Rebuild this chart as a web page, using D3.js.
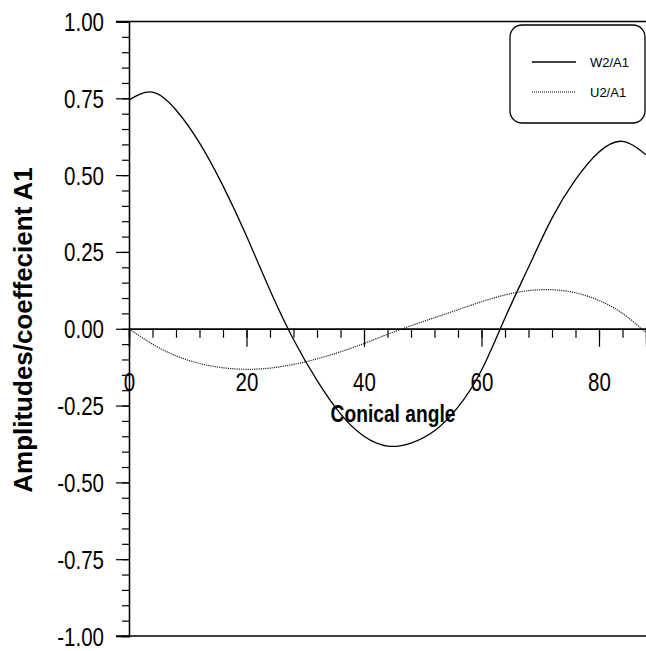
<!DOCTYPE html>
<html>
<head>
<meta charset="utf-8">
<script src="https://cdn.jsdelivr.net/npm/d3@7"></script>
<style>
body { margin: 0; background: #fff; }
</style>
</head>
<body>
<script>
// conical angle (degrees)
var angles = [0, 4, 8, 12, 16, 20, 24, 28, 32, 36, 40, 44, 48, 52, 56, 60, 64, 68, 72, 76, 80, 84, 88];
var w2 = [0.745, 0.770, 0.712, 0.605, 0.465, 0.302, 0.125, -0.035, -0.168, -0.277, -0.350, -0.382, -0.372, -0.332, -0.255, -0.135, 0.035, 0.200, 0.360, 0.485, 0.575, 0.610, 0.566];
var u2 = [0, -0.050, -0.088, -0.113, -0.127, -0.132, -0.128, -0.116, -0.098, -0.075, -0.048, -0.018, 0.010, 0.036, 0.062, 0.088, 0.110, 0.124, 0.127, 0.117, 0.092, 0.050, -0.012];
var xMajor = [0, 20, 40, 60, 80];
var yMajor = [-1, -0.75, -0.5, -0.25, 0, 0.25, 0.5, 0.75, 1];
var seriesNames = ['W2/A1', 'U2/A1'];

var scr = { w: 646, h: 651 };
var sans = "'Liberation Sans', Arial, sans-serif";

var svg = d3.select('body')
    .append('svg')
    .attr('width', scr.w)
    .attr('height', scr.h);

var xScale = d3.scaleLinear()
    .domain([0, 88])
    .range([129, 646]);
var yScale = d3.scaleLinear()
    .domain([-1, 1])
    .range([636, 21.5]);

// squeeze text to look like a narrow font
var narrowText = function(sel, ratio) {
    sel.each(function() {
        var len = this.getComputedTextLength();
        d3.select(this)
            .attr('textLength', len * ratio)
            .attr('lengthAdjust', 'spacingAndGlyphs');
    });
};

// frame lines top and bottom
svg.selectAll('.frame')
    .data([1, -1])
    .enter()
    .append('line')
    .attr('x1', 116)
    .attr('x2', scr.w)
    .attr('y1', function(d) { return yScale(d); })
    .attr('y2', function(d) { return yScale(d); })
    .attr('stroke', '#000')
    .attr('stroke-width', 1.3);

var fmt = function(d) { return d3.format('.2f')(d).replace('\u2212', '-'); };

// y axis
var yAxis = d3.axisLeft(yScale)
    .tickValues(yMajor)
    .tickSize(13)
    .tickPadding(12)
    .tickFormat(fmt);
var yMinor = d3.axisLeft(yScale)
    .tickValues(d3.range(-1, 1.001, 0.05))
    .tickSize(7)
    .tickFormat('');

var gy = svg.append('g')
    .attr('transform', 'translate(' + xScale(0) + ',0)')
    .call(yAxis);
svg.append('g')
    .attr('transform', 'translate(' + xScale(0) + ',0)')
    .call(yMinor);

// x axis at y = 0
var xAxis = d3.axisBottom(xScale)
    .tickValues(xMajor)
    .tickSize(18)
    .tickPadding(26)
    .tickFormat(d3.format('d'));
var xMinor = d3.axisBottom(xScale)
    .tickValues(d3.range(0, 88.01, 4))
    .tickSize(9)
    .tickFormat('');

var gx = svg.append('g')
    .attr('transform', 'translate(0,' + yScale(0) + ')')
    .call(xAxis);
svg.append('g')
    .attr('transform', 'translate(0,' + yScale(0) + ')')
    .call(xMinor);

svg.selectAll('.domain')
    .attr('stroke', '#000')
    .attr('stroke-width', 1.3);
svg.selectAll('.tick line')
    .attr('stroke', '#000')
    .attr('stroke-width', 1.2);
svg.selectAll('.tick text')
    .attr('font-family', sans)
    .attr('font-size', 25)
    .attr('fill', '#000')
    .call(narrowText, 0.82);
gy.selectAll('.tick text').attr('dy', '0.36em');

// axis titles
svg.append('text')
    .attr('x', 393)
    .attr('y', 422)
    .attr('text-anchor', 'middle')
    .attr('font-family', sans)
    .attr('font-weight', 'bold')
    .attr('font-size', 24)
    .text('Conical angle')
    .call(narrowText, 0.8);

svg.append('text')
    .attr('transform', 'translate(32,330) rotate(-90)')
    .attr('text-anchor', 'middle')
    .attr('font-family', sans)
    .attr('font-weight', 'bold')
    .attr('font-size', 26)
    .text('Amplitudes/coeffecient A1');

// curves
var line = d3.line()
    .x(function(d) { return xScale(d[0]); })
    .y(function(d) { return yScale(d[1]); })
    .curve(d3.curveNatural);

svg.append('path')
    .datum(d3.zip(angles, w2))
    .attr('d', line)
    .attr('fill', 'none')
    .attr('stroke', '#000')
    .attr('stroke-width', 1.3);

svg.append('path')
    .datum(d3.zip(angles, u2))
    .attr('d', line)
    .attr('fill', 'none')
    .attr('stroke', '#222')
    .attr('stroke-width', 1.2)
    .attr('stroke-dasharray', '1.2,1');

// legend
var legend = svg.append('g').classed('legend', true);
legend.append('rect')
    .attr('x', 510)
    .attr('y', 25)
    .attr('width', 135)
    .attr('height', 98)
    .attr('rx', 12)
    .attr('fill', '#fff')
    .attr('stroke', '#000')
    .attr('stroke-width', 1.3);

var items = legend.selectAll('.item')
    .data(seriesNames)
    .enter()
    .append('g')
    .attr('transform', function(d, i) { return 'translate(0,' + (62 + i * 30) + ')'; });
items.append('line')
    .attr('x1', 532)
    .attr('x2', 576)
    .attr('stroke', '#000')
    .attr('stroke-width', function(d, i) { return i == 0 ? 1.3 : 1.1; })
    .attr('stroke-dasharray', function(d, i) { return i == 0 ? null : '1,1'; });
items.append('text')
    .attr('x', 590)
    .attr('y', 5)
    .attr('font-family', sans)
    .attr('font-size', 13)
    .text(function(d) { return d; });
</script>
</body>
</html>
